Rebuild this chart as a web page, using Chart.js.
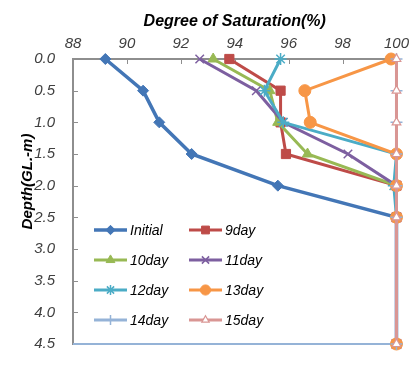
<!DOCTYPE html>
<html>
<head>
<meta charset="utf-8">
<script src="https://cdn.jsdelivr.net/npm/chart.js@4"></script>
<style>
  body { margin: 0; background: #fff; }
  #wrap { width: 415px; height: 371px; }
</style>
</head>
<body>
<div id="wrap"><canvas id="satChart" width="415" height="371"></canvas></div>
<script>
// depth (GL.-m) and degree of saturation (%) for each day
const depths = [0.0, 0.5, 1.0, 1.5, 2.0, 2.5, 4.5];
const initial = [89.2, 90.6, 91.2, 92.4, 95.6, 100, 100];
const day9 = [93.8, 95.7, 95.7, 95.9, 100, 100, 100];
const day10 = [93.2, 95.3, 95.6, 96.7, 100, 100, 100];
const day11 = [92.7, 94.8, 95.8, 98.2, 100, 100, 100];
const day12 = [95.7, 95.1, 95.8, 100, 99.9, 100, 100];
const day13 = [99.8, 96.6, 96.8, 100, 100, 100, 100];
const day14 = [100, 100, 100, 100, 100, 100, 100];
const day15 = [100, 100, 100, 100, 100, 100, 100];

const seriesNames = ['Initial', '9day', '10day', '11day', '12day', '13day', '14day', '15day'];
const seriesValues = [initial, day9, day10, day11, day12, day13, day14, day15];
const xTicks = [88, 90, 92, 94, 96, 98, 100];

const styles = [
  { color: '#4376B6', point: 'rectRot', r: 5.5, lw: 3.5, pbw: 1, fill: true },
  { color: '#BE4B48', point: 'rect', r: 6.5, lw: 3, pbw: 1, fill: true },
  { color: '#98B954', point: 'triangle', r: 6, lw: 3, pbw: 1, fill: true },
  { color: '#7D5FA0', point: 'crossRot', r: 6, lw: 3, pbw: 1.5, fill: true },
  { color: '#4BACC6', point: 'star', r: 6, lw: 3, pbw: 1.5, fill: true },
  { color: '#F79646', point: 'circle', r: 6, lw: 3, pbw: 1, fill: true },
  { color: '#95B3D7', point: 'cross', r: 6, lw: 3, pbw: 1.5, fill: true },
  { color: '#D99694', point: 'triangle', r: 5, lw: 3, pbw: 1.2, fill: false }
];

const FONT = '"Liberation Sans", Arial, sans-serif';

const datasets = seriesNames.map(function(name, i) {
  const s = styles[i];
  return {
    label: name,
    data: depths.map(function(d, k) { return { x: seriesValues[i][k], y: d }; }),
    borderColor: s.color,
    backgroundColor: s.fill ? s.color : '#ffffff',
    pointBorderColor: s.color,
    pointBackgroundColor: s.fill ? s.color : '#ffffff',
    pointStyle: s.point,
    pointRadius: s.r,
    pointBorderWidth: s.pbw,
    borderWidth: s.lw,
    tension: 0,
    clip: false,
    order: seriesNames.length - i
  };
});

// inward tick marks, bottom border, y title and the in-plot legend
const decorPlugin = {
  id: 'decor',
  beforeDatasetsDraw: function(chart) {
    const ctx = chart.ctx;
    const a = chart.chartArea;
    const xs = chart.scales.x, ys = chart.scales.y;
    ctx.save();
    ctx.strokeStyle = '#8E8E8E';
    ctx.lineWidth = 1;
    xs.ticks.forEach(function(t) {
      const px = Math.round(xs.getPixelForValue(t.value)) + 0.5;
      ctx.beginPath(); ctx.moveTo(px, a.top); ctx.lineTo(px, a.top + 5); ctx.stroke();
    });
    ys.ticks.forEach(function(t) {
      const py = Math.round(ys.getPixelForValue(t.value)) + 0.5;
      ctx.beginPath(); ctx.moveTo(a.left, py); ctx.lineTo(a.left + 5, py); ctx.stroke();
    });
    ctx.strokeStyle = '#95B3D7';
    ctx.lineWidth = 2;
    ctx.beginPath(); ctx.moveTo(a.left, a.bottom); ctx.lineTo(a.right, a.bottom); ctx.stroke();
    ctx.restore();
  },
  afterDraw: function(chart) {
    const ctx = chart.ctx;
    const a = chart.chartArea;
    ctx.save();
    // y axis title
    ctx.translate(28, (a.top + a.bottom) / 2 - 20);
    ctx.rotate(-Math.PI / 2);
    ctx.font = 'italic bold 15px ' + FONT;
    ctx.fillStyle = '#000';
    ctx.textAlign = 'center';
    ctx.textBaseline = 'middle';
    ctx.fillText('Depth(GL.-m)', 0, 0);
    ctx.restore();

    // legend, two columns
    ctx.save();
    ctx.font = 'italic 14px ' + FONT;
    ctx.textBaseline = 'middle';
    ctx.textAlign = 'left';
    seriesNames.forEach(function(name, i) {
      const s = styles[i];
      const col = i % 2, row = Math.floor(i / 2);
      const x0 = a.left + 21 + col * 95;
      const y0 = a.bottom - 114 + row * 30;
      ctx.strokeStyle = s.color;
      ctx.lineWidth = s.lw;
      ctx.beginPath(); ctx.moveTo(x0, y0); ctx.lineTo(x0 + 33, y0); ctx.stroke();
      ctx.fillStyle = s.fill ? s.color : '#ffffff';
      ctx.strokeStyle = s.color;
      ctx.lineWidth = s.pbw;
      Chart.helpers.drawPoint(ctx, { pointStyle: s.point, radius: s.r * 0.85, rotation: 0, borderWidth: s.pbw }, x0 + 16.5, y0);
      ctx.fillStyle = '#000';
      ctx.fillText(name, x0 + 36, y0 + 1);
    });
    ctx.restore();
  }
};

const ctx = document.getElementById('satChart').getContext('2d');
new Chart(ctx, {
  type: 'line',
  data: { datasets: datasets },
  options: {
    responsive: false,
    animation: false,
    layout: { padding: { left: 0, top: 0, right: 15, bottom: 10 } },
    plugins: {
      legend: { display: false },
      tooltip: { enabled: false }
    },
    scales: {
      x: {
        type: 'linear',
        position: 'top',
        min: 88,
        max: 100,
        afterBuildTicks: function(scale) {
          scale.ticks = xTicks.map(function(v) { return { value: v }; });
        },
        afterFit: function(scale) { scale.height = 59; },
        grid: { display: false, tickLength: 0 },
        border: { display: true, color: '#8E8E8E', width: 2 },
        ticks: {
          padding: 6,
          color: '#404040',
          font: { family: FONT, size: 15, style: 'italic' }
        },
        title: {
          display: true,
          text: 'Degree of Saturation(%)',
          color: '#000',
          padding: { top: 12, bottom: 0 },
          font: { family: FONT, size: 16, style: 'italic', weight: 'bold' }
        }
      },
      y: {
        type: 'linear',
        reverse: true,
        min: 0,
        max: 4.5,
        ticks: {
          stepSize: 0.5,
          padding: 18,
          color: '#404040',
          font: { family: FONT, size: 15, style: 'italic' },
          callback: function(v) { return Number(v).toFixed(1); }
        },
        afterFit: function(scale) { scale.width = 73; },
        grid: { display: false, tickLength: 0 },
        border: { display: true, color: '#8E8E8E', width: 2 }
      }
    }
  },
  plugins: [decorPlugin]
});
</script>
</body>
</html>
